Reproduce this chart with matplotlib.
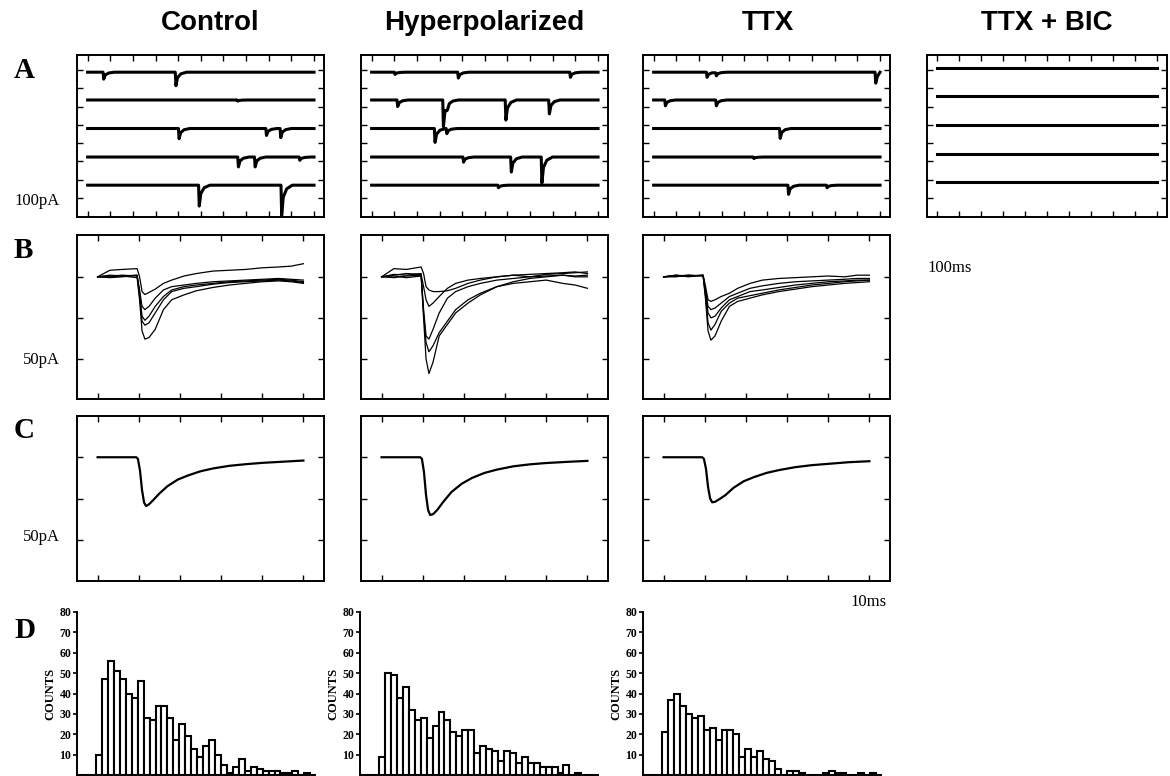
import matplotlib
matplotlib.use('Agg')
import matplotlib.pyplot as plt
import numpy as np

plt.rcParams['font.family'] = ['Liberation Serif', 'DejaVu Serif']

W, H = 1170, 776

columnas = ['Control', 'Hyperpolarized', 'TTX', 'TTX + BIC']
filas = ['A', 'B', 'C', 'D']

# fila A: 5 barridos de 1000 ms, eventos (tiempo ms, amplitud pA)
base_a = [344, 268, 190, 112, 35]
base_bic = [355, 278, 200, 121, 43]
ev_control = [[(68, 19), (387, 37)],
              [(660, 3)],
              [(401, 28), (787, 19), (850, 25)],
              [(663, 27), (737, 27), (934, 9)],
              [(490, 57), (854, 83)]]
ev_hyper = [[(100, 6), (380, 16), (875, 14)],
            [(112, 18), (314, 73), (333, 25), (590, 55), (782, 38)],
            [(277, 38), (329, 14)],
            [(403, 14), (614, 41), (749, 71)],
            [(557, 7)]]
ev_ttx = [[(233, 14), (274, 10), (978, 30)],
          [(49, 16), (274, 16)],
          [(556, 27)],
          [(440, 4)],
          [(593, 25), (763, 7)]]
ev_bic = [[], [], [], [], []]

# fila B: 5 eventos individuales (pA) sobre la misma base de tiempo (ms)
t_b = [0, 3, 6, 9.6, 10.2, 10.8, 11.5, 12.5, 14, 16, 18, 21, 24, 28, 32, 36, 40, 44, 47, 50]
b_control = [[0, 4, 4.5, 5, 0, -9, -10.8, -9.5, -7.5, -4, -2, 0.5, 2, 3.5, 4, 4.5, 5.5, 6, 6.5, 8],
             [0, 1, 0.5, 1, -8, -18, -20, -18, -13, -8, -6, -5, -4, -3, -2.5, -2, -1.5, -1, -1.5, -2],
             [0, 0.5, 1, 0.5, -10, -24, -26.5, -24, -18, -12, -8, -6, -5, -4, -3, -2.5, -2, -1.5, -2, -3],
             [0, -0.5, 0, 1, -12, -27, -29.5, -28, -22, -14, -9, -7, -6, -4.5, -3.5, -3, -2.5, -2, -2.5, -3.5],
             [0, 0, 0.5, -0.5, -14, -33, -38, -37, -32, -20, -14, -11, -8.5, -6.5, -5, -4, -3, -2.5, -3, -4]]
b_hyper = [[0, 5, 4.5, 6, 2, -6, -8, -9, -9, -8.5, -7, -4, -2, 0, 1, 1.5, 2, 2.5, 3, 2],
           [0, 1, 2, 1.5, -6, -14, -18, -16, -12, -7, -4, -2, -1, 0, 1, 0, 1.5, 2, 2.5, 3],
           [0, -0.5, 0.5, 1, -20, -36, -38, -32, -22, -13, -9, -6, -4, -2, -1, 0, 0.5, 1, 0, 0],
           [0, 1.5, 1, 2, -22, -40, -45.7, -42, -34, -27, -20, -14, -10, -6, -4, -3, -2, -4, -5, -7],
           [0, 0.5, -0.5, 0.5, -25, -50, -59, -52, -36, -29, -22, -16, -11, -6, -3, -1, 0, 1, 0.5, 1]]
b_ttx = [[0, 1, 0.5, 1, -6, -14, -15, -14, -12, -10, -7, -4, -2, -1, -0.5, 0, 0.5, 0, 1, 1],
         [0, 0.5, 1, 0.5, -8, -18, -20, -19, -16, -12, -10, -7, -5.5, -4, -3, -2.5, -2, -1.5, -1, -1],
         [0, 1, 0, 1, -10, -22, -25, -24, -19, -14, -12, -9, -8, -6.5, -5, -4, -3, -2.5, -2, -2],
         [0, 0, 1, 0.5, -12, -28, -32.5, -29, -21, -16, -13, -11.5, -10, -8, -6.5, -5, -4, -3, -2.5, -2],
         [0, 0.5, 0.5, 1, -14, -33, -38.6, -36, -27, -18, -15, -13, -11, -9, -7.5, -6, -5, -4, -3.5, -3]]

# fila C: promedio de los eventos (pA)
t_c = [0, 9.4, 9.8, 10.3, 10.8, 11.3, 11.8, 12.5, 13.5, 15, 17, 19.5, 22, 25, 28, 32, 36, 40, 45, 50]
c_control = [0, 0, -1, -8, -20, -27.5, -29.6, -28.5, -26, -22, -17.5, -13.5, -11, -8.5, -6.8, -5.2, -4.2, -3.4, -2.7, -2]
c_hyper = [0, 0, -1, -9, -23, -32, -35, -34.5, -32, -27, -21, -16, -12.5, -9.5, -7.5, -5.5, -4.3, -3.5, -2.8, -2.2]
c_ttx = [0, 0, -1, -7, -18, -25, -27.3, -27, -25.5, -23, -18.5, -14.5, -12, -9.5, -7.8, -6, -4.8, -4, -3, -2.4]

# fila D: histogramas de amplitud (conteos por bin)
h_control = [0, 0, 0, 10, 47, 56, 51, 47, 40, 38, 46, 28, 27, 34, 34, 28, 17, 25, 19, 13, 9, 14, 17, 10,
             5, 1, 4, 8, 2, 4, 3, 2, 2, 2, 1, 1, 2, 0, 1, 0]
h_hyper = [0, 0, 0, 9, 50, 49, 38, 43, 32, 27, 28, 18, 24, 31, 27, 21, 19, 22, 22, 11, 14, 13, 12, 7,
           12, 11, 6, 9, 6, 6, 4, 4, 4, 1, 5, 0, 1, 0, 0, 0]
h_ttx = [0, 0, 0, 21, 37, 40, 34, 30, 28, 29, 22, 23, 17, 22, 22, 20, 9, 13, 9, 12, 8, 7, 3, 0,
         2, 2, 1, 0, 0, 0, 1, 2, 1, 1, 0, 0, 1, 0, 1, 0]


def barrido(eventos, base):
    # linea base con caidas rapidas y decaimiento lento para cada evento
    x = [0]
    y = [base]
    for t, a in sorted(eventos):
        while x[-1] >= t:
            x.pop(); y.pop()
        x.append(t); y.append(y[-1])
        for dt, f in [(3, 1.0), (10, 0.4), (25, 0.12), (50, 0.0)]:
            x.append(t + dt); y.append(base - f * a)
    while x[-1] >= 1000:
        x.pop(); y.pop()
    x.append(1000); y.append(base)
    return x, y


def caja(ax):
    for s in ax.spines.values():
        s.set_linewidth(1.4)
    ax.tick_params(direction='in', length=4, width=1, top=True, right=True,
                   labelbottom=False, labelleft=False)


def eje(izq, arriba, ancho, alto):
    return fig.add_axes([izq / W, 1 - (arriba + alto) / H, ancho / W, alto / H])


fig = plt.figure(figsize=(W / 100, H / 100), dpi=100)

izqs = [77, 361, 643, 927]
titulos_x = [210, 484, 768, 1047]
for i, c in enumerate(columnas):
    fig.text(titulos_x[i] / W, 1 - 23 / H, c, ha='center', va='center', fontsize=20,
             fontweight='bold', family='Liberation Sans')

# fila A
eventos_a = [ev_control, ev_hyper, ev_ttx, ev_bic]
for i in range(4):
    ax = eje(izqs[i], 55, 247 if i < 3 else 240, 162)
    bases = base_a if i < 3 else base_bic
    for k in range(5):
        x, y = barrido(eventos_a[i][k], bases[k])
        ax.plot(x, y, color='black', lw=2.2)
    ax.set_xlim(-47, 1044)
    ax.set_ylim(-52, 391)
    ax.set_xticks(np.arange(0, 1001, 100))
    ax.set_yticks(np.arange(0, 351, 50))
    caja(ax)

# filas B y C
datos_b = [b_control, b_hyper, b_ttx]
datos_c = [c_control, c_hyper, c_ttx]
for i in range(3):
    ax = eje(izqs[i], 235, 247, 164)
    for s in datos_b[i]:
        ax.plot(t_b, s, color='black', lw=0.9)
    ax.set_xlim(-5, 55)
    ax.set_ylim(-74.5, 25.5)
    ax.set_xticks(np.arange(0, 51, 10))
    ax.set_yticks([-50, -25, 0])
    caja(ax)

    ax = eje(izqs[i], 416, 247, 165)
    ax.plot(t_c, datos_c[i], color='black', lw=1.6)
    ax.set_xlim(-5, 55)
    ax.set_ylim(-75, 25)
    ax.set_xticks(np.arange(0, 51, 10))
    ax.set_yticks([-50, -25, 0])
    caja(ax)

# fila D
hists = [h_control, h_hyper, h_ttx]
izqs_d = [77, 360, 643]
for i in range(3):
    ax = eje(izqs_d[i], 612, 238, 163)
    bins = np.arange(len(hists[i])) + 0.2
    ax.bar(bins, hists[i], width=1.0, align='edge', color='white', edgecolor='black', lw=1.5)
    ax.set_xlim(0, 40)
    ax.set_ylim(0, 80)
    ax.set_yticks(np.arange(10, 81, 10))
    ax.set_yticklabels([str(v) for v in range(10, 81, 10)], fontsize=8.5, fontweight='bold')
    ax.set_xticks([])
    ax.spines['top'].set_visible(False)
    ax.spines['right'].set_visible(False)
    ax.spines['left'].set_linewidth(1.4)
    ax.spines['bottom'].set_linewidth(1.4)
    ax.tick_params(axis='y', direction='out', length=3, width=1.2, pad=1)
    ax.set_ylabel('COUNTS', fontsize=9, fontweight='bold', labelpad=2)

# letras de fila y escalas
letras_y = [71, 250, 431, 630]
for l, yy in zip(filas, letras_y):
    fig.text(14 / W, 1 - yy / H, l, ha='left', va='center', fontsize=21, fontweight='bold')

fig.text(60 / W, 1 - 201 / H, '100pA', ha='right', va='center', fontsize=12)
fig.text(60 / W, 1 - 360 / H, '50pA', ha='right', va='center', fontsize=12)
fig.text(60 / W, 1 - 537 / H, '50pA', ha='right', va='center', fontsize=12)
fig.text(927 / W, 1 - 268 / H, '100ms', ha='left', va='center', fontsize=12)
fig.text(887 / W, 1 - 602 / H, '10ms', ha='right', va='center', fontsize=12)

fig.savefig('out.png', dpi=100)
